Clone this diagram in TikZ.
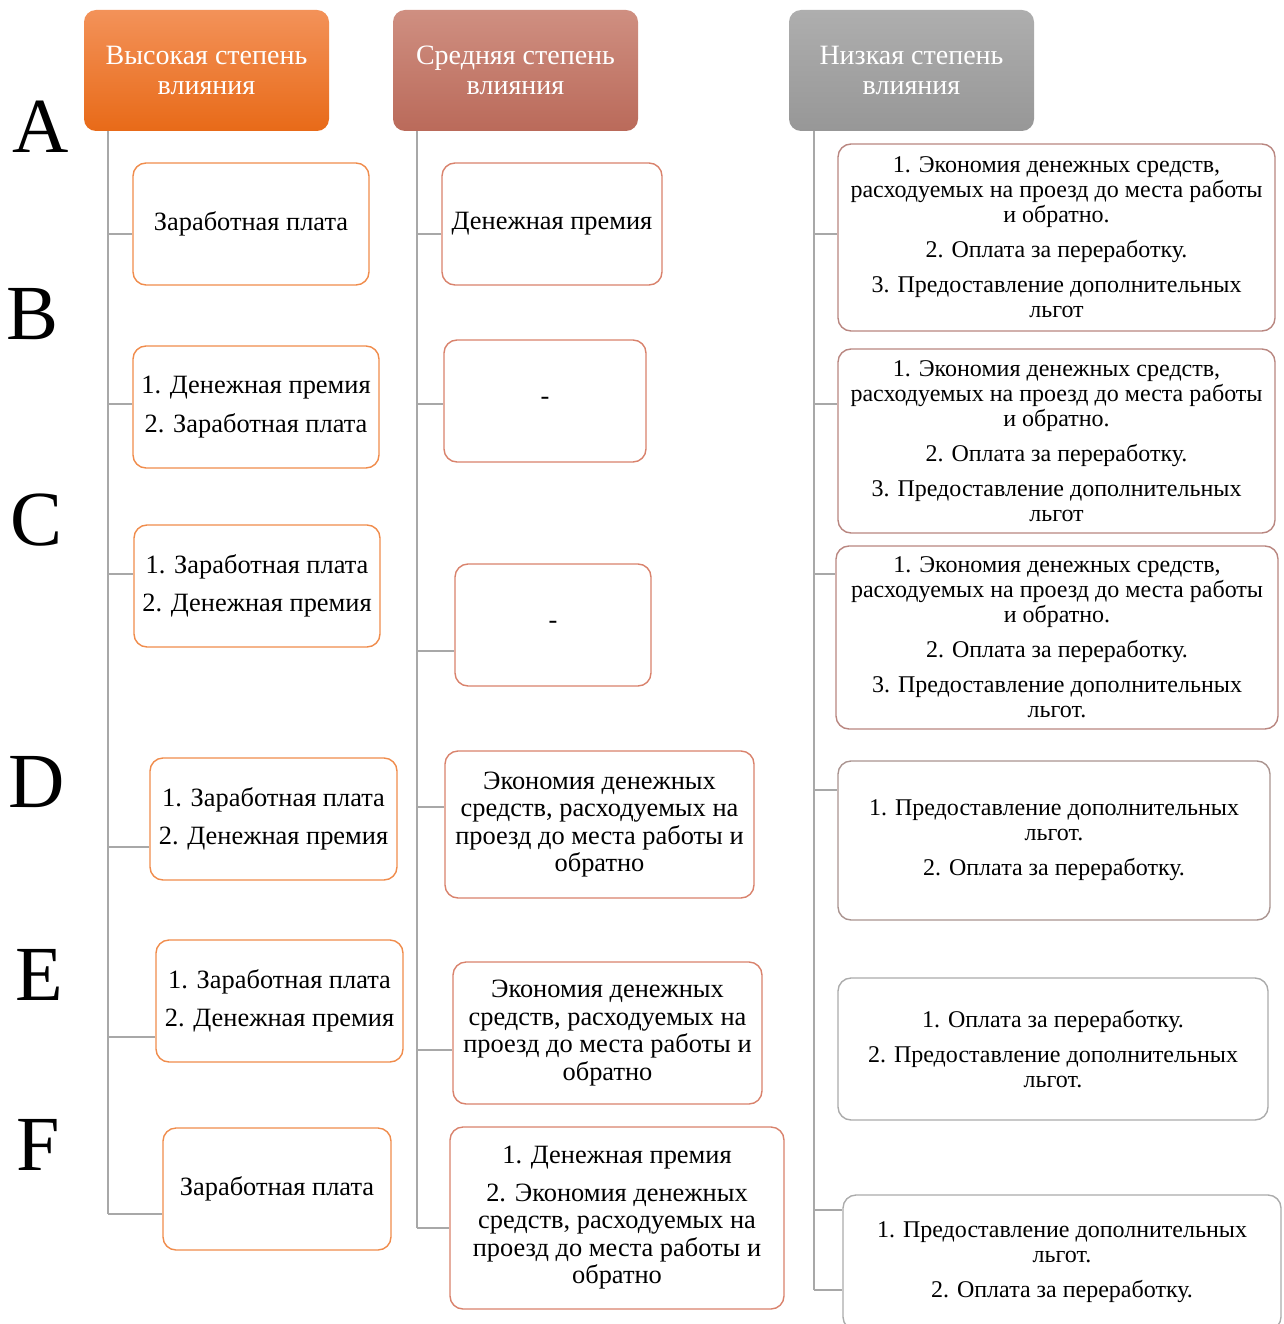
\documentclass[tikz,border=0pt]{standalone}
\usepackage{fontspec}
\setmainfont{Liberation Serif}
\definecolor{hiTop}{HTML}{F39259}
\definecolor{hiBot}{HTML}{E86A18}
\definecolor{midTop}{HTML}{CF8F81}
\definecolor{midBot}{HTML}{BA6A5A}
\definecolor{loTop}{HTML}{AEAEAE}
\definecolor{loBot}{HTML}{979797}
\definecolor{edgeL}{HTML}{F08C4C}
\definecolor{edgeM}{HTML}{D9826C}
\definecolor{edgeR}{HTML}{B98680}
\definecolor{edgeRD}{HTML}{AA9490}
\definecolor{edgeRG}{HTML}{ABABAB}
\definecolor{spineC}{HTML}{A8A8A8}
\begin{document}
\begin{tikzpicture}[x=1pt, y=-1pt, line join=round, line cap=round,
	head/.style={rounded corners=12pt, inner sep=0pt, text=white, align=center,
		font=\fontsize{28}{30}\selectfont, minimum width=245pt, minimum height=121pt},
	card/.style={draw, line width=1.4pt, rounded corners=13pt, fill=white, inner sep=0pt, align=center},
	cardL/.style={card, draw=edgeL, font=\fontsize{26.4}{27.5}\selectfont},
	cardM/.style={card, draw=edgeM, font=\fontsize{26.4}{27.5}\selectfont},
	cardR/.style={card, draw=edgeR, font=\fontsize{24}{25}\selectfont},
	spine/.style={draw=spineC, line width=2pt, line cap=butt},
	letter/.style={font=\fontsize{78}{78}\selectfont}]
	\clip (0,0) rectangle (1283,1324);
	\useasboundingbox (0,0) rectangle (1283,1324);
	% ==================== ЗАГОЛОВКИ ====================
	\node[head, top color=hiTop, bottom color=hiBot] (hL) at (206.5,70.5) {Высокая степень\\влияния};
	\node[head, top color=midTop, bottom color=midBot] (hM) at (515.5,70.5) {Средняя степень\\влияния};
	\node[head, top color=loTop, bottom color=loBot] (hR) at (911.5,70.5) {Низкая степень\\влияния};
	% ==================== БУКВЫ ====================
	\foreach \t/\x/\y in {A/41/127, B/33/314, C/37/520, D/37/782, E/39/975, F/38/1145}
	\node[letter] (let\t) at (\x,\y) {\t};
	% ==================== ЛЕВАЯ КОЛОНКА ====================
	\node[cardL, minimum width=236pt, minimum height=122pt] (la) at (251,224) {Заработная плата};
	\node[cardL, minimum width=246pt, minimum height=122pt] (lb) at (256,407) {1. Денежная премия\\[11pt]2. Заработная плата};
	\node[cardL, minimum width=246pt, minimum height=122pt] (lc) at (257,586) {1. Заработная плата\\[11pt]2. Денежная премия};
	\node[cardL, minimum width=247pt, minimum height=122pt] (ld) at (273.5,819) {1. Заработная плата\\[11pt]2. Денежная премия};
	\node[cardL, minimum width=247pt, minimum height=122pt] (le) at (279.5,1001) {1. Заработная плата\\[11pt]2. Денежная премия};
	\node[cardL, minimum width=228pt, minimum height=122pt] (lf) at (277,1189) {Заработная плата};
	% ==================== СРЕДНЯЯ КОЛОНКА ====================
	\node[cardM, minimum width=220pt, minimum height=122pt] (ma) at (552,224) {Денежная премия};
	\node[cardM, minimum width=202pt, minimum height=122pt] (mb) at (545,401) {-};
	\node[cardM, minimum width=196pt, minimum height=122pt] (mc) at (553,625) {-};
	\node[cardM, minimum width=309pt, minimum height=147pt] (md) at (599.5,824.5)
	{Экономия денежных\\средств, расходуемых на\\проезд до места работы и\\обратно};
	\node[cardM, minimum width=309pt, minimum height=142pt] (me) at (607.5,1033)
	{Экономия денежных\\средств, расходуемых на\\проезд до места работы и\\обратно};
	\node[cardM, minimum width=334pt, minimum height=182pt] (mf) at (617,1218)
	{1. Денежная премия\\[10pt]2. Экономия денежных\\средств, расходуемых на\\проезд до места работы и\\обратно};
	% ==================== ПРАВАЯ КОЛОНКА ====================
	\node[cardR, minimum width=437pt, minimum height=187pt] (ra) at (1056.5,237.5)
	{1. Экономия денежных средств,\\расходуемых на проезд до места работы\\и обратно.\\[10pt]2. Оплата за переработку.\\[10pt]3. Предоставление дополнительных\\льгот};
	\node[cardR, minimum width=437pt, minimum height=184pt] (rb) at (1056.5,441)
	{1. Экономия денежных средств,\\расходуемых на проезд до места работы\\и обратно.\\[10pt]2. Оплата за переработку.\\[10pt]3. Предоставление дополнительных\\льгот};
	\node[cardR, minimum width=442pt, minimum height=183pt] (rc) at (1057,637.5)
	{1. Экономия денежных средств,\\расходуемых на проезд до места работы\\и обратно.\\[10pt]2. Оплата за переработку.\\[10pt]3. Предоставление дополнительных\\льгот.};
	\node[cardR, draw=edgeRD, minimum width=432pt, minimum height=159pt] (rd) at (1054,840.5)
	{1. Предоставление дополнительных\\льгот.\\[10pt]2. Оплата за переработку.};
	\node[cardR, draw=edgeRG, minimum width=430pt, minimum height=142pt] (re) at (1053,1049)
	{1. Оплата за переработку.\\[10pt]2. Предоставление дополнительных\\льгот.};
	\node[cardR, draw=edgeRG, minimum width=438pt, minimum height=135pt] (rf) at (1062,1262.5)
	{1. Предоставление дополнительных\\льгот.\\[10pt]2. Оплата за переработку.};
	% ==================== СВЯЗИ ====================
	\coordinate (sL) at (108,1214);
	\coordinate (sM) at (417,1228);
	\coordinate (sR) at (814,1290);
	\draw[spine] (hL.south -| sL) -- (sL);
	\draw[spine] (hM.south -| sM) -- (sM);
	\draw[spine] (hR.south -| sR) -- (sR);
	\foreach \n/\y in {la/234, lb/404, lc/574, ld/847, le/1037, lf/1214}{
		\coordinate (\n-s) at (108,\y);
		\draw[spine] (\n-s) -- (\n-s -| \n.west);}
	\foreach \n/\y in {ma/234, mb/404, mc/651, md/807, me/1050, mf/1228}{
		\coordinate (\n-s) at (417,\y);
		\draw[spine] (\n-s) -- (\n-s -| \n.west);}
	\foreach \n/\y in {ra/234, rb/404, rc/574, rd/790}{
		\coordinate (\n-s) at (814,\y);
		\draw[spine] (\n-s) -- (\n-s -| \n.west);}
	\coordinate (rf-s1) at (814,1210);
	\coordinate (rf-s2) at (814,1290);
	\draw[spine] (rf-s1) -- (rf-s1 -| rf.west);
	\draw[spine] (rf-s2) -- (rf-s2 -| rf.west);
\end{tikzpicture}
\end{document}
